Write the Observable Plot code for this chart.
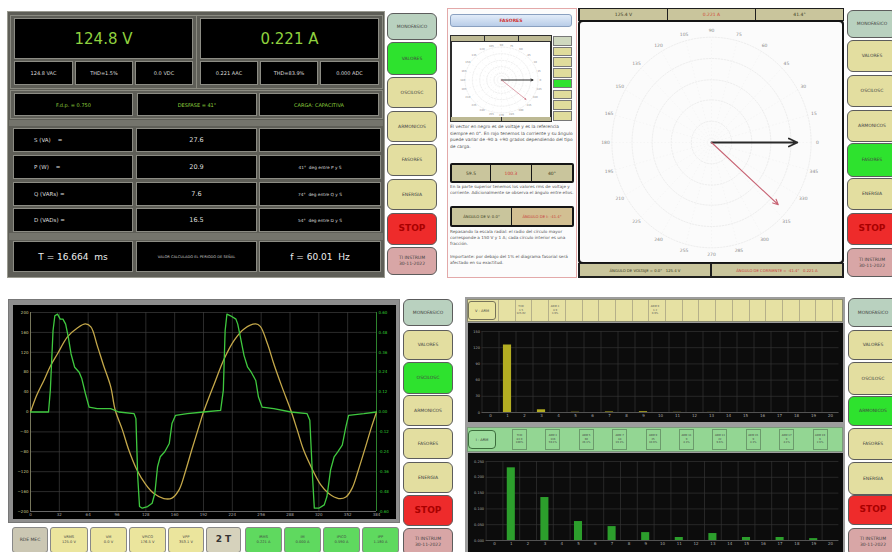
<!DOCTYPE html>
<html><head><meta charset="utf-8">
<script src="https://cdn.jsdelivr.net/npm/d3@7"></script>
<script src="https://cdn.jsdelivr.net/npm/@observablehq/plot@0.6"></script>
<style>
html,body{margin:0;padding:0;background:#fff;}
#root{position:relative;width:892px;height:552px;overflow:hidden;font-family:"DejaVu Sans",sans-serif;}
.a{position:absolute;box-sizing:border-box;display:flex;align-items:center;justify-content:center;text-align:center;overflow:hidden;white-space:nowrap;}
.p{display:block;white-space:normal;text-align:left;font-size:4.2px;line-height:6.2px;color:#555;}
svg{display:block;}
</style></head><body><div id="root"></div>
<script>
// ---------- DATA ----------
const navLabels = ["MONOFASICO","VALORES","OSCILOSC","ARMONICOS","FASORES","ENERGIA","STOP","TI INSTRUM<br>30-11-2022"];

// oscilloscope: voltage (V) and current (A) vs sample index, two periods
const voltT = [0,7,15,22,30,41,52,61,67,74,81,89,94,102,109,118,128,137,148,157,165,172,179,187,192,204,215,226,237,250,255,263,270,279,289,296,303,313,322,331,342,350,357,364,372,378,384];
const voltV = [0,34,64,92,117,151,169,177,171,134,94,51,4,-36,-76,-116,-146,-164,-174,-173,-156,-119,-76,-29,0,57,107,144,167,177,172,137,97,51,3,-36,-76,-116,-146,-164,-174,-171,-153,-116,-69,-33,0];
const currT = [0,20,22,25,27,30,33,36,39,42,45,49,54,57,61,65,74,89,98,115,117,119,121,124,130,135,138,141,144,149,154,157,161,174,192,211,214,216,218,222,228,230,233,237,241,245,250,253,257,270,289,307,310,313,315,320,326,329,333,337,341,346,350,353,370,384];
const currI = [0,0,0.13,0.49,0.58,0.59,0.56,0.56,0.53,0.45,0.35,0.27,0.24,0.20,0.11,0.03,0.02,0.02,0,-0.01,-0.04,-0.39,-0.57,-0.58,-0.57,-0.55,-0.49,-0.33,-0.27,-0.24,-0.19,-0.07,-0.02,-0.01,0,0.01,0.13,0.49,0.59,0.58,0.56,0.53,0.45,0.34,0.27,0.24,0.19,0.09,0.03,0.02,0,-0.01,-0.05,-0.39,-0.58,-0.58,-0.56,-0.51,-0.35,-0.27,-0.24,-0.20,-0.09,-0.02,-0.01,0];
const voltTicks = [-200,-160,-120,-80,-40,0,40,80,120,160,200];
const currTicks = [-0.6,-0.48,-0.36,-0.24,-0.12,0,0.12,0.24,0.36,0.48,0.6];
const timeTicks = [0,32,64,96,128,160,192,224,256,288,320,352,384];

// harmonics
const harmonics = [0,1,2,3,4,5,6,7,8,9,10,11,12,13,14,15,16,17,18,19,20];
const voltHarm = [0,125,0,5,0,0.5,0,1,0,1.5,0,0.3,0,0.2,0,0,0,0,0,0,0];
const currHarm = [0,0.230,0,0.136,0,0.060,0,0.044,0,0.025,0,0.0095,0,0.022,0,0.0095,0,0.0095,0,0.006,0];
const voltHarmTicks = [0,30,60,90,120,150];
const currHarmTicks = [0,0.05,0.10,0.15,0.20,0.25];

// phasors
const phasorNames = ["V","I"];
const phasorAngles = [0,-41.4];
const phasorMags = [0.81,0.84];
const dialAngles = [0,15,30,45,60,75,90,105,120,135,150,165,180,195,210,225,240,255,270,285,300,315,330,345];
const ringRadii = [0.19,0.38,0.56,0.75,0.94];

// ---------- HELPERS ----------
const root = document.getElementById("root");
function el(x,y,w,h,css,html,cls){
  const d=document.createElement("div");
  d.className="a"+(cls?" "+cls:"");
  d.style.cssText=`left:${x}px;top:${y}px;width:${w}px;height:${h}px;`+(css||"");
  if(html!=null) d.innerHTML=html;
  root.appendChild(d);
  return d;
}
function navColumn(x,w,ys,active){
  ys.forEach(([y,h],i)=>{
    let bg = i===0?"#b9d1bf":i===6?"#ee2b2b":i===7?"#d8a6a6":"#e3dea0";
    if(i===active) bg="#2ee22e";
    const fs = i===6 ? "font-size:9px;font-weight:bold;color:#a80000;" : "font-size:4.5px;color:#444;";
    el(x,y,w,h,`background:${bg};border:1.5px solid #5c5c5c;border-radius:6px;line-height:1.25;`+fs, navLabels[i]);
  });
}
const rad = a => a*Math.PI/180;

// ---------- TOP-LEFT: VALORES ----------
el(7,11,378,267,"background:#5e5e57;border:1px solid #9a9a90;");
el(10,15,187,74,"border:1px solid #8a8a80;");
el(196,15,187,74,"border:1px solid #8a8a80;");
el(10,90,373,29,"border:1px solid #8a8a80;");
el(9,120,374,6,"background:#74746c;");
el(9,233,374,7,"background:#74746c;");
const blk = "background:#000;border:1px solid #8c8c84;";
el(14,18,179,41, blk+"color:#8fd13f;font-size:15px;", "124.8 V");
el(200,18,179,41, blk+"color:#8fd13f;font-size:15px;", "0.221 A");
[[14,59,"124.8 VAC"],[75,58,"THD=1.5%"],[135,58,"0.0 VDC"],[200,58,"0.221 AAC"],[260,58,"THD=83.9%"],[320,59,"0.000 ADC"]]
  .forEach(([x,w,t])=>el(x,61,w,24,blk+"color:#ddd;font-size:5px;",t));
[[14,119,"F.d.p. = 0.750"],[137,120,"DESFASE = 41°"],[259,120,"CARGA: CAPACITIVA"]]
  .forEach(([x,w,t])=>el(x,93,w,23,blk+"color:#8fd13f;font-size:5px;",t));
const tableRows = [["S (VA)&nbsp;&nbsp;&nbsp;&nbsp;=","27.6",""],["P (W)&nbsp;&nbsp;&nbsp;&nbsp;=","20.9","41°&nbsp; deg entre P y S"],["Q (VARs) =","7.6","74°&nbsp; deg entre Q y S"],["D (VADs) =","16.5","54°&nbsp; deg entre D y S"]];
[128,155,182,208].forEach((y,i)=>{
  el(13,y,120,24,blk+"color:#ddd;font-size:5.5px;justify-content:flex-start;padding-left:20px;",tableRows[i][0]);
  el(136,y,121,24,blk+"color:#ddd;font-size:6.5px;",tableRows[i][1]);
  el(259,y,122,24,blk+"color:#ddd;font-size:4.3px;",tableRows[i][2]);
});
el(13,241,120,31,blk+"color:#eee;font-size:9px;","T = 16.664&nbsp; ms");
el(136,241,121,31,blk+"color:#ccc;font-size:3.6px;","VALOR CALCULADO EL PERIODO DE SEÑAL");
el(259,241,122,31,blk+"color:#eee;font-size:9px;","f = 60.01&nbsp; Hz");
navColumn(387,50,[[13,27],[42,33],[77,31],[111,31],[144,32],[179,31],[213,32],[247,28]],1);

// ---------- TOP-RIGHT: FASORES ----------
el(447,8,130,270,"background:#fcfcfc;border:1.5px solid #e3a9a9;");
el(450,14,122,13,"background:linear-gradient(#e2ecf9,#b9cde8);border:1px solid #8aa0c0;border-radius:3px;color:#d03030;font-size:4.5px;font-weight:bold;","FASORES");
el(450,35,102,87,"background:#2d2d2d;");
[[451,33],[485,33],[519,32]].forEach(([x,w])=>el(x,36,w,5,"background:#bdb994;"));
[[451,50],[502,49]].forEach(([x,w])=>el(x,117,w,4,"background:#bdb994;"));
const miniHost = el(452,42,98,75,"background:#fff;display:block;");
for(let k=0;k<8;k++) el(553,36+k*10.7,19,9.7,`background:${k===4?"#2ee22e":k===0?"#cfd8bf":"#e0dc9c"};border:1px solid #777;`,"");
el(450,124,124,32,"font-size:4.4px;line-height:6.6px;","El vector en negro es de voltaje y es la referencia siempre en 0°. En rojo tenemos la corriente y su ángulo puede variar de -90 a +90 grados dependiendo del tipo de carga.","p");
el(450,163,124,20,"background:#151515;border-radius:2px;");
[[452,38,"#3a3a20","59.5"],[491,40,"#d03a3a","100.3"],[532,40,"#3a3a20","40°"]].forEach(([x,w,c,t])=>el(x,165,w,16,`background:#c9c59c;color:${c};font-size:4.5px;`,t));
el(450,184,124,20,"","En la parte superior tenemos los valores rms de voltaje y corriente. Adicionalmente se observa el ángulo entre ellos.","p");
el(450,206,124,21,"background:#151515;border-radius:2px;");
el(452,208,59,17,"background:#c9c59c;color:#3a3a20;font-size:3.8px;","ÁNGULO DE V: 0.0°");
el(512,208,60,17,"background:#d2bf92;color:#c83a3a;font-size:3.8px;","ÁNGULO DE I: -41.4°");
el(450,229,124,19,"","Repasando la escala radial: el radio del círculo mayor corresponde a 150 V y 1 A; cada círculo interior es una fracción.","p");
el(450,254,124,14,"","Importante: por debajo del 1% el diagrama fasorial será afectado en su exactitud.","p");

el(578,8,266,13,"background:#1e1e1e;");
[[580,"#3a3a20","125.4 V"],[668,"#d04a3a","0.221 A"],[756,"#3a3a20","41.4°"]].forEach(([x,c,t])=>el(x,9,87,11,`background:#c9c59c;color:${c};font-size:4.5px;`,t));
el(578,20,266,244,"background:#141414;border-radius:4px;");
const polarHost = el(580,22,262,240,"background:#fbfbfb;border-radius:3px;display:block;");
el(578,263,266,15,"background:#1e1e1e;");
el(580,264,130,12,"background:#c9c59c;color:#3a3a20;font-size:3.8px;","ÁNGULO DE VOLTAJE = 0.0°&nbsp;&nbsp; 125.4 V");
el(712,264,130,12,"background:#c9c59c;color:#c83a3a;font-size:3.8px;","ÁNGULO DE CORRIENTE = -41.4°&nbsp;&nbsp; 0.221 A");
navColumn(847,50,[[10,28],[40,32],[75,32],[110,32],[143,34],[178,32],[213,32],[248,29]],4);

// ---------- BOTTOM-LEFT: OSCILOSC ----------
el(8,299,392,224,"background:#8e8e8e;border:1px solid #777;");
const waveHost = el(13,305,383,214,"background:#000;display:block;");
const bottomBtns = [[12,36,"#cbc7b3","RDE MEC"],[50,38,"#ebe59d","VRMS<br>125.0 V"],[90,37,"#ebe59d","VM<br>0.0 V"],[129,37,"#ebe59d","VPICO<br>176.5 V"],[168,36,"#ebe59d","VPP<br>353.1 V"],[206,35,"#d6d2bc","2 T"],[245,37,"#5fd95f","IRMS<br>0.221 A"],[284,37,"#5fd95f","IM<br>0.000 A"],[323,37,"#5fd95f","IPICO<br>0.590 A"],[362,37,"#5fd95f","IPP<br>1.180 A"]];
bottomBtns.forEach(([x,w,bg,t],i)=>el(x,527,w,26,`background:${bg};border:1px solid #888;border-radius:3px;color:#444;line-height:1.3;`+(i===5?"font-size:9px;font-weight:bold;color:#333;":i===0?"font-size:4.5px;":"font-size:3.6px;"),t));
navColumn(403,50,[[299,27],[330,30],[362,32],[395,31],[428,31],[462,31],[495,31],[528,28]],2);

// ---------- BOTTOM-RIGHT: ARMONICOS ----------
el(465,297,380,255,"background:#9d9d9d;");
el(467,299,376,23,"background:#e6e1a3;border:1px solid #8a8a70;");
for(let k=0;k<21;k++) el(498+k*16.7,300,1,21,"background:#b5b08a;");
el(468,301,28,19,"background:#e9e4a0;border:1px solid #77745a;border-radius:3px;font-size:3.6px;color:#444;","V - ARM");
[[514,"THD<br>1.5<br>125.0V"],[548,"ARM 3<br>4.9<br>3.9%"],[648,"ARM 9<br>1.2<br>0.9%"]].forEach(([x,t])=>el(x,300,14,21,"font-size:2.6px;color:#555;line-height:1.5;",t));
const topHarmHost = el(468,323,375,99,"background:#0c0c0c;display:block;");
el(467,427,376,25,"background:#93d693;border:1px solid #7a9a7a;");
el(468,430,28,19,"background:#9ddc9d;border:1px solid #3d6d3d;border-radius:4px;font-size:3.6px;color:#333;","I - ARM");
const iBoxes = [["THD","83.9","100%"],["ARM 3","136","59.1%"],["ARM 5","60","26.1%"],["ARM 7","44","19.1%"],["ARM 9","25","10.9%"],["ARM 11","9","4.1%"],["ARM 13","22","9.6%"],["ARM 15","9","4.1%"],["ARM 17","9","4.1%"],["ARM 19","6","2.6%"]];
iBoxes.forEach((b,k)=>el(512+k*33.4,429,15,21,"border:1px solid #6c9a6c;font-size:2.6px;color:#444;line-height:1.5;",b.join("<br>")));
const botHarmHost = el(468,453,375,99,"background:#0c0c0c;display:block;");
navColumn(848,50,[[298,29],[330,30],[362,33],[396,30],[428,32],[462,33],[495,30],[528,28]],3);

// ---------- PLOTS ----------
const font = "DejaVu Sans, sans-serif";

// oscilloscope
const iK = 200/0.6;
const vData = voltT.map((t,i)=>({t, v: voltV[i]}));
const iData = currT.map((t,i)=>({t, a: currI[i]}));
waveHost.appendChild(Plot.plot({
  width:383, height:214, marginLeft:17, marginRight:20, marginTop:7, marginBottom:8,
  style:{background:"#000", fontFamily:font},
  x:{domain:[0,384], label:null}, y:{domain:[-200,200], label:null},
  marks:[
    Plot.gridX(timeTicks,{stroke:"#3d3d3d", strokeOpacity:1, strokeWidth:0.7}),
    Plot.gridY(voltTicks,{stroke:"#3d3d3d", strokeOpacity:1, strokeWidth:0.7}),
    Plot.ruleX([0],{stroke:"#8c8c6a", strokeWidth:0.8}),
    Plot.ruleX([384],{stroke:"#2f9a2f", strokeWidth:0.8}),
    Plot.ruleY([-200],{stroke:"#777", strokeWidth:0.8}),
    Plot.line(vData,{x:"t", y:"v", stroke:"#c4a84a", strokeWidth:1.3, curve:"catmull-rom"}),
    Plot.line(iData,{x:"t", y:d=>d.a*iK, stroke:"#3fc83f", strokeWidth:1.3, curve:"linear"}),
    Plot.axisY(voltTicks,{anchor:"left", tickSize:0, tickPadding:2, fontSize:4, fill:"#c8c890", label:null}),
    Plot.axisY(currTicks.map(c=>c*iK),{anchor:"right", tickSize:0, tickPadding:2, fontSize:4, fill:"#3c3", label:null, tickFormat:d=>(d/iK).toFixed(2)}),
    Plot.axisX(timeTicks,{anchor:"bottom", tickSize:0, tickPadding:1.5, fontSize:4, fill:"#aaa", label:null})
  ]
}));

// harmonics
function harmPlot(values, color, yTicks, fmt, ml, mr, mb){
  const data = harmonics.map((h,i)=>({h, v: values[i]}));
  return Plot.plot({
    width:375, height:99, marginLeft:ml, marginRight:mr, marginTop:8, marginBottom:mb,
    style:{background:"#0c0c0c", fontFamily:font},
    x:{domain:[-0.5,20.5], label:null}, y:{domain:[0,yTicks[yTicks.length-1]], label:null},
    marks:[
      Plot.ruleX(harmonics.map(h=>h-0.5),{stroke:"#333", strokeWidth:0.7}),
      Plot.gridY(yTicks,{stroke:"#333", strokeOpacity:1, strokeWidth:0.7}),
      Plot.rectY(data,{x1:d=>d.h-0.24, x2:d=>d.h+0.24, y:"v", fill:color}),
      Plot.ruleY([0],{stroke:"#666", strokeWidth:0.7}),
      Plot.axisX(harmonics,{anchor:"bottom", tickSize:0, tickPadding:2, fontSize:4, fill:"#aaa", label:null}),
      Plot.axisY(yTicks,{anchor:"left", tickSize:0, tickPadding:2, fontSize:3.5, fill:"#aaa", label:null, tickFormat:fmt})
    ]
  });
}
topHarmHost.appendChild(harmPlot(voltHarm,"#b3ad22",voltHarmTicks,d=>d.toFixed(0),13.5,4.5,10));
botHarmHost.appendChild(harmPlot(currHarm,"#2c9e2c",currHarmTicks,d=>d.toFixed(3),17.6,4.6,12));

// phasors
const phasors = phasorNames.map((n,i)=>({n, a: phasorAngles[i], m: phasorMags[i]}));
const ringPts = ringRadii.flatMap(r=>d3.range(0,361,4).map(a=>({r, a})));
function phasorPlot(w,h,xd,yd,fs,sw,hl,labelR){
  return Plot.plot({
    width:w, height:h, margin:0,
    style:{background:"transparent", fontFamily:font},
    x:{domain:[-xd,xd], axis:null}, y:{domain:[-yd,yd], axis:null},
    marks:[
      Plot.line(ringPts,{x:d=>d.r*Math.cos(rad(d.a)), y:d=>d.r*Math.sin(rad(d.a)), z:"r", stroke:"#e4e4e4", strokeWidth:0.6, strokeDasharray:"1.5,1.5"}),
      Plot.link(dialAngles,{x1:()=>0, y1:()=>0, x2:a=>0.94*Math.cos(rad(a)), y2:a=>0.94*Math.sin(rad(a)), stroke:"#efefef", strokeWidth:0.5, strokeDasharray:"1.5,2"}),
      Plot.text(dialAngles,{x:a=>labelR*Math.cos(rad(a)), y:a=>labelR*Math.sin(rad(a)), text:a=>String(a), fontSize:fs, fill:"#8a8a8a"}),
      Plot.arrow([phasors[0]],{x1:()=>0, y1:()=>0, x2:d=>d.m*Math.cos(rad(d.a)), y2:d=>d.m*Math.sin(rad(d.a)), stroke:"#2a2a2a", strokeWidth:sw*1.6, headLength:hl, headAngle:50}),
      Plot.arrow([phasors[1]],{x1:()=>0, y1:()=>0, x2:d=>d.m*Math.cos(rad(d.a)), y2:d=>d.m*Math.sin(rad(d.a)), stroke:"#c86575", strokeWidth:sw, headLength:hl, headAngle:50})
    ]
  });
}
polarHost.appendChild(phasorPlot(262,240,1.236,1.071,4.5,1.1,8,1.0));
miniHost.appendChild(phasorPlot(98,75,1.26,1.07,2.6,0.6,3.5,1.0));
</script></body></html>
